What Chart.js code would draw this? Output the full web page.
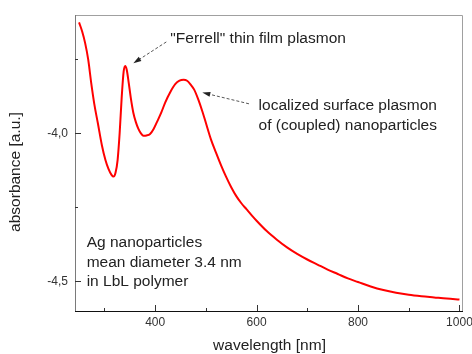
<html>
  <head>
    <script src="https://cdn.jsdelivr.net/npm/chart.js@4.4.1/dist/chart.umd.min.js"></script>
    <style>
      body { margin: 0; background: #fff; }
    </style>
  </head>
  <body>
    <canvas id="output" width="472" height="354"></canvas>

    <script>
      // Spectrum
      var wavelength = [250, 256, 262, 268, 274, 280, 287, 295, 302, 308, 314, 318, 322, 326, 330, 334, 338, 341, 344, 348,
        352, 357, 362, 367, 372, 377, 383, 390, 397, 404, 412, 420, 430, 440, 448, 456, 463, 470, 477, 485,
        493, 501, 510, 520, 530, 540, 550, 560, 570, 580, 590, 600, 620, 640, 660, 680, 700, 720, 740, 760,
        780, 800, 825, 850, 875, 900, 925, 950, 975, 1000];
      var absorbance = [-3.625, -3.655, -3.695, -3.75, -3.83, -3.90, -3.965, -4.04, -4.09, -4.12, -4.14, -4.146, -4.132, -4.09, -4.00, -3.88, -3.79, -3.772, -3.785, -3.83,
        -3.88, -3.93, -3.962, -3.985, -4.0, -4.008, -4.007, -4.002, -3.985, -3.96, -3.93, -3.895, -3.86, -3.833, -3.822, -3.819, -3.822, -3.835, -3.852, -3.885,
        -3.925, -3.97, -4.02, -4.065, -4.108, -4.147, -4.182, -4.212, -4.236, -4.256, -4.276, -4.295, -4.33, -4.359, -4.385, -4.407, -4.426, -4.443, -4.46, -4.475,
        -4.49, -4.502, -4.517, -4.529, -4.538, -4.545, -4.55, -4.554, -4.558, -4.561];

      // Axis ticks
      var xMajor = [400, 600, 800, 1000];
      var xMinor = [300, 500, 700, 900];
      var yMajor = [-4.0, -4.5];
      var yMinor = [-3.75, -4.25];
      var yLabels = ['-4,0', '-4,5'];

      // Annotations: [text lines, x, y] and arrows [fromX, fromY, toX, toY] in data units
      var notes = [
        [['"Ferrell" thin film plasmon'], 430, -3.681],
        [['localized surface plasmon', 'of (coupled) nanoparticles'], 604, -3.907],
        [['Ag nanoparticles', 'mean diameter 3.4 nm', 'in LbL polymer'], 265, -4.371]
      ];
      var arrows = [
        [422, -3.691, 357, -3.763],
        [585, -3.900, 493, -3.862]
      ];

      var points = wavelength.map(function (w, i) { return { x: w, y: absorbance[i] }; });
      var font = '"Liberation Sans", Arial, sans-serif';

      var axesPlugin = {
        id: 'axes',
        afterDraw: function (chart) {
          var c = chart.ctx, a = chart.chartArea;
          var xs = chart.scales.x, ys = chart.scales.y;
          c.save();

          // frame
          c.lineWidth = 1;
          c.strokeStyle = '#a0a0a0';
          c.beginPath();
          c.moveTo(a.left, a.top + 0.5); c.lineTo(a.right + 0.5, a.top + 0.5); c.lineTo(a.right + 0.5, a.bottom);
          c.stroke();
          c.strokeStyle = '#7a7a7a';
          c.beginPath(); c.moveTo(a.left + 0.5, a.top); c.lineTo(a.left + 0.5, a.bottom); c.stroke();
          c.strokeStyle = '#111';
          c.beginPath(); c.moveTo(a.left, a.bottom + 0.5); c.lineTo(a.right + 1, a.bottom + 0.5); c.stroke();

          // ticks, pointing inside
          c.strokeStyle = '#333';
          function xt(v, len) {
            var px = Math.round(xs.getPixelForValue(v)) + 0.5;
            c.beginPath(); c.moveTo(px, a.bottom); c.lineTo(px, a.bottom - len); c.stroke();
          }
          function yt(v, len) {
            var py = Math.round(ys.getPixelForValue(v)) + 0.5;
            c.beginPath(); c.moveTo(a.left, py); c.lineTo(a.left + len, py); c.stroke();
          }
          xMajor.forEach(function (v) { xt(v, 6); });
          xMinor.forEach(function (v) { xt(v, 3); });
          yMajor.forEach(function (v) { yt(v, 6); });
          yMinor.forEach(function (v) { yt(v, 3); });

          // tick labels
          c.fillStyle = '#333';
          c.font = '12px ' + font;
          c.textAlign = 'center'; c.textBaseline = 'middle';
          xMajor.forEach(function (v) { c.fillText(String(v), xs.getPixelForValue(v), a.bottom + 12); });
          c.textAlign = 'right';
          yMajor.forEach(function (v, i) { c.fillText(yLabels[i], a.left - 7, ys.getPixelForValue(v)); });

          // axis titles
          c.fillStyle = '#222';
          c.font = '15.5px ' + font;
          c.textAlign = 'center';
          c.fillText('wavelength [nm]', (a.left + a.right) / 2 + 1, a.bottom + 35);
          c.save();
          c.translate(16, 172);
          c.rotate(-Math.PI / 2);
          c.fillText('absorbance [a.u.]', 0, 0);
          c.restore();

          // annotation texts
          c.textAlign = 'left';
          notes.forEach(function (n) {
            var px = xs.getPixelForValue(n[1]), py = ys.getPixelForValue(n[2]);
            n[0].forEach(function (line, i) { c.fillText(line, px, py + i * 19.5); });
          });

          // dashed arrows
          c.strokeStyle = '#555';
          c.fillStyle = '#222';
          arrows.forEach(function (ar) {
            var x1 = xs.getPixelForValue(ar[0]), y1 = ys.getPixelForValue(ar[1]);
            var x2 = xs.getPixelForValue(ar[2]), y2 = ys.getPixelForValue(ar[3]);
            var ang = Math.atan2(y2 - y1, x2 - x1);
            c.setLineDash([3, 2]);
            c.beginPath(); c.moveTo(x1, y1); c.lineTo(x2 - 6 * Math.cos(ang), y2 - 6 * Math.sin(ang)); c.stroke();
            c.setLineDash([]);
            c.beginPath();
            c.moveTo(x2, y2);
            c.lineTo(x2 - 8 * Math.cos(ang) + 2.5 * Math.sin(ang), y2 - 8 * Math.sin(ang) - 2.5 * Math.cos(ang));
            c.lineTo(x2 - 8 * Math.cos(ang) - 2.5 * Math.sin(ang), y2 - 8 * Math.sin(ang) + 2.5 * Math.cos(ang));
            c.closePath(); c.fill();
          });

          c.restore();
        }
      };

      var ctx = document.getElementById('output').getContext('2d');
      var myChart = new Chart(ctx, {
        type: 'line',
        data: {
          datasets: [{
            label: 'absorbance',
            data: points,
            borderColor: '#ff0000',
            borderWidth: 2,
            pointRadius: 0,
            cubicInterpolationMode: 'monotone',
            fill: false
          }]
        },
        options: {
          responsive: false,
          animation: false,
          layout: { padding: { left: 75, top: 15, right: 10, bottom: 43 } },
          plugins: { legend: { display: false }, tooltip: { enabled: false } },
          scales: {
            x: { type: 'linear', min: 242, max: 1005, display: false },
            y: { type: 'linear', min: -4.6, max: -3.6, display: false }
          }
        },
        plugins: [axesPlugin]
      });
    </script>
  </body>
</html>
